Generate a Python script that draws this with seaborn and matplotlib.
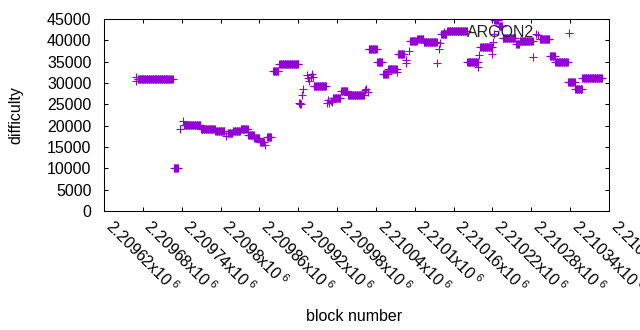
import numpy as np
import pandas as pd
import matplotlib
matplotlib.use("Agg")
import matplotlib.pyplot as plt
import seaborn as sns

# runs of blocks with the same difficulty (start block, end block, difficulty)
seg_start = [2209672, 2209728, 2209744, 2209770, 2209792, 2209811, 2209819, 2209831,
             2209843, 2209852, 2209861, 2209872, 2209881, 2209891, 2209944, 2209974,
             2209986, 2209997, 2210029, 2210042, 2210051, 2210059, 2210074, 2210093,
             2210104, 2210114, 2210141, 2210150, 2210181, 2210203, 2210223, 2210230,
             2210236, 2210257, 2210262, 2210293, 2210309, 2210317, 2210337, 2210348,
             2210359]
seg_end = [2209726, 2209734, 2209769, 2209791, 2209806, 2209818, 2209830, 2209842,
           2209851, 2209860, 2209867, 2209878, 2209889, 2209920, 2209963, 2209985,
           2209996, 2210022, 2210041, 2210050, 2210058, 2210072, 2210083, 2210103,
           2210113, 2210134, 2210149, 2210180, 2210197, 2210219, 2210229, 2210235,
           2210255, 2210261, 2210282, 2210308, 2210316, 2210336, 2210347, 2210358,
           2210389]
seg_diff = [30900, 10000, 20100, 19200, 18700, 18200, 18700, 19200,
            17800, 17000, 16200, 17400, 32800, 34400, 29300, 26400,
            28100, 27100, 37900, 34900, 32000, 33200, 36800, 39900,
            40300, 39600, 41400, 42300, 35000, 38400, 44800, 43300,
            40600, 39100, 39900, 40200, 36300, 35000, 30200, 28500,
            31100]

# isolated blocks
pt_block = [2209669, 2209670, 2209738, 2209742, 2209808, 2209869,
            2209921, 2209922, 2209923, 2209924, 2209926, 2209928,
            2209933, 2209935, 2209937, 2209939, 2209941, 2209943,
            2209964, 2209966, 2209968, 2209970, 2209972,
            2210023, 2210025, 2210027, 2210073, 2210086, 2210087, 2210091,
            2210135, 2210137, 2210139, 2210145, 2210198, 2210199, 2210200,
            2210220, 2210221, 2210222, 2210283, 2210288, 2210290]
pt_diff = [31400, 30400, 19200, 21100, 17500, 15500,
           25200, 25000, 25400, 25100, 27200, 28600,
           31800, 31200, 30400, 31500, 32100, 31400,
           25400, 26000, 25200, 25700, 25500,
           28300, 28700, 28000, 32600, 34800, 35400, 37500,
           34600, 37900, 39300, 41900, 33800, 36500, 38400,
           36800, 39600, 41600, 36200, 41600, 41200]

x_ticks = [2209620, 2209680, 2209740, 2209800, 2209860, 2209920, 2209980,
           2210040, 2210100, 2210160, 2210220, 2210280, 2210340, 2210400]
x_tick_text = ["2.20962", "2.20968", "2.20974", "2.2098", "2.20986", "2.20992",
               "2.20998", "2.21004", "2.2101", "2.21016", "2.21022", "2.21028",
               "2.21034", "2.2104"]
y_ticks = [0, 5000, 10000, 15000, 20000, 25000, 30000, 35000, 40000, 45000]

blocks, diffs = [], []
for s, e, d in zip(seg_start, seg_end, seg_diff):
    for b in range(s, e + 1):
        blocks.append(b)
        diffs.append(d)
blocks += pt_block
diffs += pt_diff
df = pd.DataFrame({"block number": blocks, "difficulty": diffs})

sns.set_theme(style="ticks")
plt.rcParams["font.family"] = ["Liberation Sans", "DejaVu Sans"]
plt.rcParams["mathtext.fontset"] = "custom"
plt.rcParams["mathtext.rm"] = "Liberation Sans"
plt.rcParams["mathtext.it"] = "Liberation Sans"

fig = plt.figure(figsize=(6.4, 3.3), dpi=100)
ax = fig.add_axes([104 / 640, 1 - 211 / 330, 505 / 640, 192 / 330])

sns.scatterplot(data=df, x="block number", y="difficulty", marker="+", s=36,
                color="#9400D3", linewidth=0.8, ax=ax, label="ARGON2")

ax.set_xlim(2209620, 2210400)
ax.set_ylim(0, 45000)
ax.set_xticks(x_ticks)
ax.set_xticklabels([t + r"x10$\,^{6}$" for t in x_tick_text], rotation=-45,
                   ha="left", va="baseline", rotation_mode="anchor")
ax.set_yticks(y_ticks)
ax.set_yticklabels([str(v) for v in y_ticks])
ax.tick_params(axis="both", direction="in", length=3, width=0.75, top=True,
               right=True, labelsize=11.5, colors="black")
ax.tick_params(axis="y", pad=9)
ax.tick_params(axis="x", pad=12)
for sp in ax.spines.values():
    sp.set_visible(True)
    sp.set_color("black")
    sp.set_linewidth(0.75)
ax.set_xlabel("block number", fontsize=11.5, color="black")
ax.set_ylabel("difficulty", fontsize=11.5, color="black")
ax.xaxis.set_label_coords(0.495, -0.51)
ax.yaxis.set_label_coords(-0.16, 0.5)
ax.grid(False)

leg = ax.legend(loc="upper right", bbox_to_anchor=(0.972, 1.02), frameon=False,
                markerfirst=False, fontsize=11.5, handletextpad=1.2,
                borderaxespad=0.2)

fig.savefig("out.png", dpi=100)
